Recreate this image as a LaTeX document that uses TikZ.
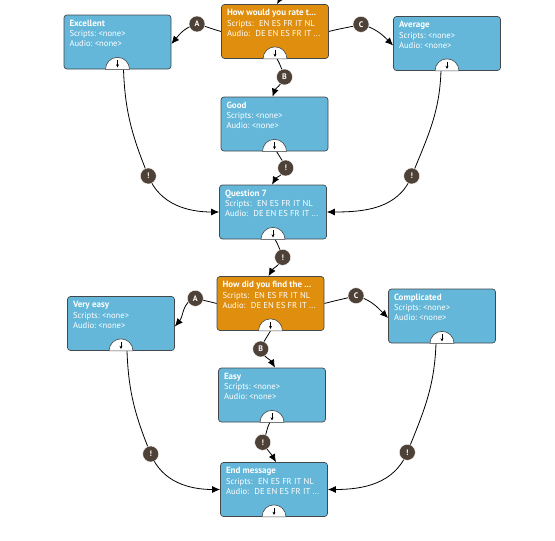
\documentclass[tikz,border=0pt]{standalone}
\usepackage{fontspec}
\setmainfont{PT Sans}
\usetikzlibrary{arrows.meta,backgrounds}
\definecolor{boxblue}{HTML}{64B7D9}
\definecolor{boxorange}{HTML}{E08E0E}
\definecolor{boxline}{HTML}{45484A}
\definecolor{badgecol}{HTML}{4E4137}
\newcommand\mybody[3]{\parbox[t][44pt][t]{96pt}{{\fontsize{9}{10}\selectfont\textbf{#1}}\\[0.3pt]Scripts:~#2\\Audio:~#3}}
\tikzset{
  box/.style={draw=boxline, rounded corners=3pt, line width=0.7pt, inner xsep=5.5pt, inner ysep=5pt,
    text=white, font=\fontsize{8.6}{10}\selectfont, minimum width=107pt},
  bluebox/.style={box, fill=boxblue},
  orangebox/.style={box, fill=boxorange},
  badge/.style={circle, fill=badgecol, draw=white, line width=0.4pt, minimum size=16pt, inner sep=0pt,
    text=white, font=\bfseries\fontsize{8}{8}\selectfont},
  conn/.style={line width=0.8pt, -{Latex[length=8pt,width=7pt]}},
  link/.style={line width=0.8pt},
  port/.style={draw=boxline, fill=white, line width=0.6pt},
  portarrow/.style={line width=0.6pt, -{Stealth[length=3pt,width=3pt]}}
}
\begin{document}
\begin{tikzpicture}[x=1pt,y=-1pt]
\useasboundingbox (0,0) rectangle (555,541);
% boxes
\node[orangebox] (how1) at (275,31.5) {\mybody{How would you rate t...}{ EN ES FR IT NL}{ DE EN ES FR IT ...}};
\node[bluebox] (exc) at (117.5,42) {\mybody{Excellent}{<none>}{<none>}};
\node[bluebox] (avg) at (447,43.5) {\mybody{Average}{<none>}{<none>}};
\node[bluebox] (good) at (274.5,124) {\mybody{Good}{<none>}{<none>}};
\node[bluebox] (q7) at (273,212) {\mybody{Question 7}{ EN ES FR IT NL}{ DE EN ES FR IT ...}};
\node[orangebox] (how2) at (270.5,303.5) {\mybody{How did you find the ...}{ EN ES FR IT NL}{ DE EN ES FR IT ...}};
\node[bluebox] (veasy) at (121,323.5) {\mybody{Very easy}{<none>}{<none>}};
\node[bluebox] (compl) at (442,316) {\mybody{Complicated}{<none>}{<none>}};
\node[bluebox] (easy) at (272,395) {\mybody{Easy}{<none>}{<none>}};
\node[bluebox] (endm) at (274,489.5) {\mybody{End message}{ EN ES FR IT NL}{ DE EN ES FR IT ...}};
% ports
\foreach \b in {how1,exc,avg,good,q7,how2,veasy,compl,easy,endm}{
  \draw[port] ([xshift=-12pt]\b.south) arc[start angle=180,end angle=0,radius=12pt] -- cycle;
  \draw[portarrow] ([yshift=9pt]\b.south) -- ([yshift=2pt]\b.south);
}
% badges
\node[badge] (a1) at (197,24) {A};
\node[badge] (b1) at (284.5,77) {B};
\node[badge] (c1) at (361,24.3) {C};
\node[badge] (e1) at (148.3,176) {!};
\node[badge] (e2) at (285.7,168) {!};
\node[badge] (e3) at (411.7,176) {!};
\node[badge] (e4) at (282.7,257.3) {!};
\node[badge] (a2) at (195.3,298.3) {A};
\node[badge] (b2) at (260.7,349) {B};
\node[badge] (c2) at (356,295.7) {C};
\node[badge] (e5) at (150.7,454) {!};
\node[badge] (e6) at (262.7,442.3) {!};
\node[badge] (e7) at (407.3,452.3) {!};
\coordinate (top) at (284,-8);
\begin{pgfonlayer}{background}
\draw[conn] (top) -- ([xshift=2pt]how1.north);
% first question
\draw[link] (how1.west) to[out=165,in=-15] (a1.center);
\draw[conn] (a1.center) to[out=195,in=50] ([yshift=-2pt]exc.east);
\draw[link] ([xshift=2pt]how1.south) to[out=-60,in=110] (b1.center);
\draw[conn] (b1.center) to[out=-110,in=70] ([xshift=-2pt]good.north);
\draw[link] (how1.east) to[out=15,in=195] (c1.center);
\draw[conn] (c1.center) to[out=-15,in=135] ([yshift=-2pt]avg.west);
\draw[link] ([xshift=6pt]exc.south) to[out=-88,in=112] (e1.center);
\draw[conn] (e1.center) to[out=-68,in=180] (q7.west);
\draw[link] ([xshift=2pt]good.south) to[out=-60,in=110] (e2.center);
\draw[conn] (e2.center) to[out=-110,in=60] ([xshift=-1pt]q7.north);
\draw[link] ([xshift=-6pt]avg.south) to[out=-92,in=68] (e3.center);
\draw[conn] (e3.center) to[out=-112,in=0] (q7.east);
\draw[link] ([xshift=2pt]q7.south) to[out=-60,in=110] (e4.center);
\draw[conn] (e4.center) to[out=-110,in=60] ([xshift=-2pt]how2.north);
% second question
\draw[link] (how2.west) to[out=165,in=-15] (a2.center);
\draw[conn] (a2.center) to[out=195,in=50] ([yshift=-3pt]veasy.east);
\draw[link] (how2.south) to[out=-120,in=70] (b2.center);
\draw[conn] (b2.center) to[out=-70,in=120] ([xshift=3pt]easy.north);
\draw[link] (how2.east) to[out=15,in=195] (c2.center);
\draw[conn] (c2.center) to[out=-15,in=135] ([yshift=-2pt]compl.west);
\draw[link] ([xshift=6pt]veasy.south) to[out=-88,in=112] (e5.center);
\draw[conn] (e5.center) to[out=-68,in=180] (endm.west);
\draw[link] ([xshift=-2pt]easy.south) to[out=-120,in=60] (e6.center);
\draw[conn] (e6.center) to[out=-60,in=120] ([xshift=2pt]endm.north);
\draw[link] ([xshift=-6pt]compl.south) to[out=-92,in=68] (e7.center);
\draw[conn] (e7.center) to[out=-112,in=0] (endm.east);
\end{pgfonlayer}
\end{tikzpicture}
\end{document}
